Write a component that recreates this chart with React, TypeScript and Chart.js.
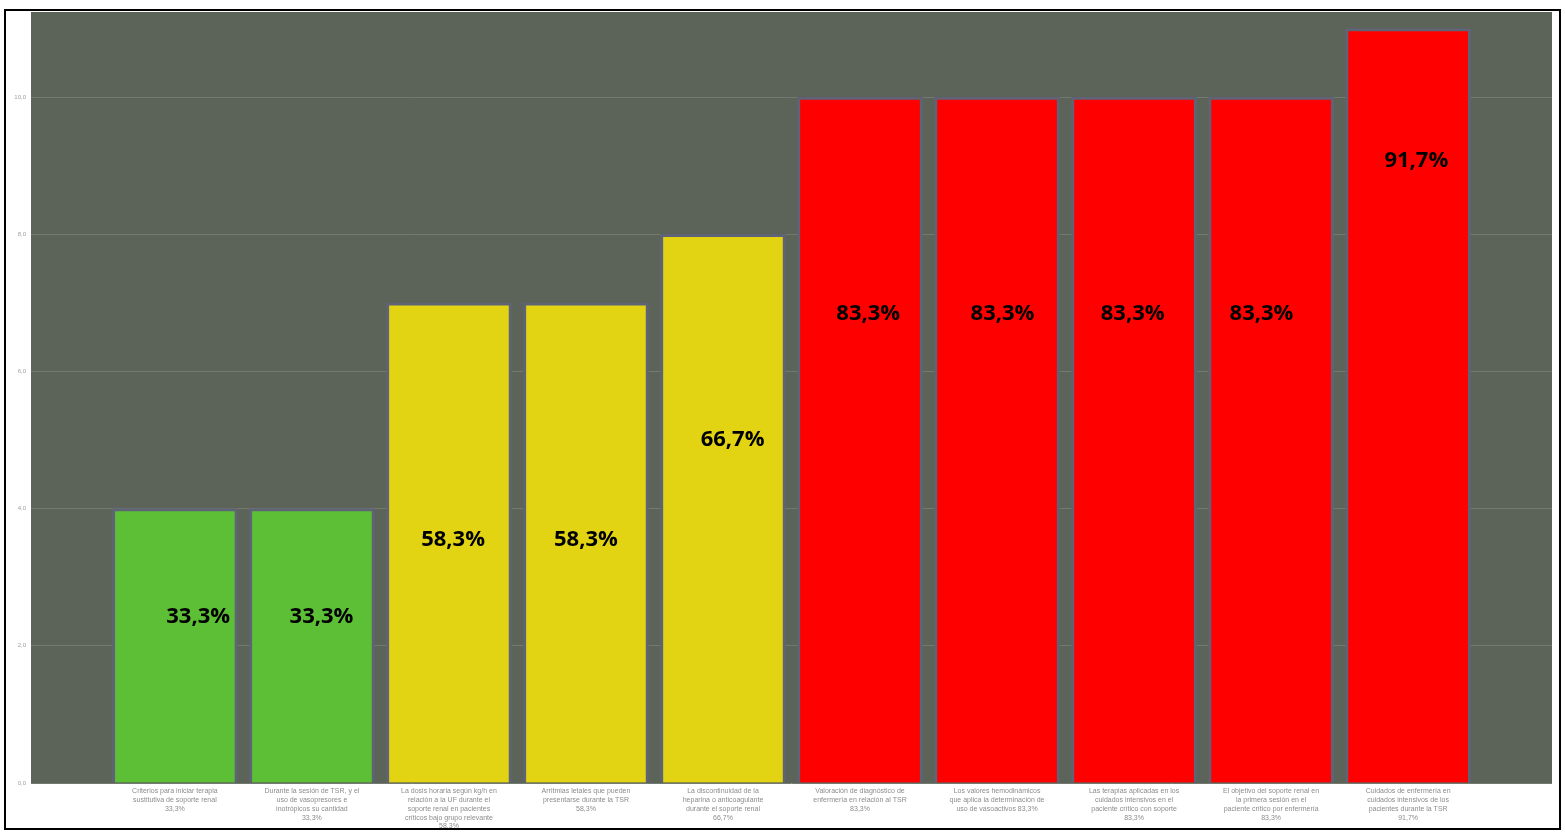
import React, { useEffect, useRef } from "react";
import { Chart, registerables } from "chart.js";

Chart.register(...registerables);

// ---- data ----
const categories: string[][] = [
  ["Criterios para iniciar terapia", "sustitutiva de soporte renal", "33,3%"],
  ["Durante la sesión de TSR, y el", "uso de vasopresores e", "inotrópicos su cantidad", "33,3%"],
  ["La dosis horaria según kg/h en", "relación a la UF durante el", "soporte renal en pacientes", "críticos bajo grupo relevante", "58,3%"],
  ["Arritmias letales que pueden", "presentarse durante la TSR", "58,3%"],
  ["La discontinuidad de la", "heparina o anticoagulante", "durante el soporte renal", "66,7%"],
  ["Valoración de diagnóstico de", "enfermería en relación al TSR", "83,3%"],
  ["Los valores hemodinámicos", "que aplica la determinación de", "uso de vasoactivos 83,3%"],
  ["Las terapias aplicadas en los", "cuidados intensivos en el", "paciente crítico con soporte", "83,3%"],
  ["El objetivo del soporte renal en", "la primera sesión en el", "paciente crítico por enfermería", "83,3%"],
  ["Cuidados de enfermería en", "cuidados intensivos de los", "pacientes durante la TSR", "91,7%"],
];
const counts = [4, 4, 7, 7, 8, 10, 10, 10, 10, 11];
const percentLabels = ["33,3%", "33,3%", "58,3%", "58,3%", "66,7%", "83,3%", "83,3%", "83,3%", "83,3%", "91,7%"];
const yTickValues = [0, 2, 4, 6, 8, 10];
const yTickLabels = ["0,0", "2,0", "4,0", "6,0", "8,0", "10,0"];

const GREEN = "#5cbf36";
const YELLOW = "#e2d412";
const RED = "#ff0000";
const barColors = [GREEN, GREEN, YELLOW, YELLOW, YELLOW, RED, RED, RED, RED, RED];

// placement of the in-bar percentage annotations (x offset in category units, y in value units)
const annotationDx = [0.17, 0.07, 0.03, 0, 0.07, 0.06, 0.04, -0.01, -0.07, 0.06];
const annotationY = [2.42, 2.42, 3.54, 3.54, 5.0, 6.84, 6.84, 6.84, 6.84, 9.07];

const PLOT_BG = "#5c6359";

const backgroundPlugin = {
  id: "bgPlugin",
  beforeDraw(chart: any) {
    const { ctx, chartArea } = chart;
    ctx.save();
    ctx.fillStyle = "#ffffff";
    ctx.fillRect(0, 0, chart.width, chart.height);
    ctx.fillStyle = PLOT_BG;
    ctx.fillRect(chartArea.left, chartArea.top, chartArea.right - chartArea.left, chartArea.bottom - chartArea.top);
    ctx.restore();
  },
};

const framePlugin = {
  id: "framePlugin",
  afterDraw(chart: any) {
    const { ctx } = chart;
    ctx.save();
    ctx.fillStyle = "#ffffff";
    ctx.fillRect(0, 0, chart.width, 10);
    ctx.fillRect(0, 829, chart.width, chart.height - 829);
    ctx.strokeStyle = "#000000";
    ctx.lineWidth = 2;
    ctx.strokeRect(5, 10, 1555, 819);
    ctx.restore();
  },
};

const valueLabelPlugin = {
  id: "valueLabels",
  afterDatasetsDraw(chart: any) {
    const { ctx } = chart;
    const xs = chart.scales.x;
    const ys = chart.scales.y;
    ctx.save();
    ctx.font = "bold 22px 'Open Sans'";
    ctx.fillStyle = "#000000";
    ctx.textAlign = "center";
    ctx.textBaseline = "middle";
    percentLabels.forEach((t, i) => {
      const x = xs.getPixelForValue(i + annotationDx[i]);
      const y = ys.getPixelForValue(annotationY[i]);
      ctx.fillText(t, x, y);
    });
    ctx.restore();
  },
};

export default function App() {
  const ref = useRef<HTMLCanvasElement>(null);
  useEffect(() => {
    if (!ref.current) return;
    const chart = new Chart(ref.current, {
      type: "bar",
      data: {
        datasets: [
          {
            data: counts.map((v, i) => ({ x: i, y: v })),
            backgroundColor: barColors,
            borderColor: "#5e6476",
            borderWidth: 3,
            barThickness: 125,
          },
        ],
      },
      options: {
        responsive: false,
        animation: false,
        devicePixelRatio: 1,
        layout: { padding: { left: 0, top: 12, right: 13, bottom: 0 } },
        plugins: { legend: { display: false }, tooltip: { enabled: false } },
        scales: {
          x: {
            type: "linear",
            offset: false,
            min: -1.05,
            max: 10.05,
            grid: { display: false, drawTicks: false, offset: false },
            border: { display: false },
            afterBuildTicks: (axis: any) => {
              axis.ticks = categories.map((_, i) => ({ value: i }));
            },
            afterFit: (scale: any) => {
              scale.height = 50;
            },
            ticks: {
              autoSkip: false,
              maxRotation: 0,
              minRotation: 0,
              padding: 4,
              color: "#8c8c8c",
              font: { family: "'Liberation Sans'", size: 7, lineHeight: 1.25 },
              callback: (v: any) => categories[Math.round(Number(v))] ?? "",
            },
          },
          y: {
            min: 0,
            max: 11.24,
            grid: { color: "#737a70", lineWidth: 1, drawTicks: false },
            border: { display: false },
            afterBuildTicks: (axis: any) => {
              axis.ticks = yTickValues.map((v) => ({ value: v }));
            },
            afterFit: (scale: any) => {
              scale.width = 31;
            },
            ticks: {
              padding: 5,
              color: "#a0a0a0",
              font: { family: "'Liberation Sans'", size: 6 },
              callback: (v: any) => yTickLabels[yTickValues.indexOf(Number(v))] ?? "",
            },
          },
        },
      },
      plugins: [backgroundPlugin, valueLabelPlugin, framePlugin],
    });
    return () => chart.destroy();
  }, []);
  return (
    <div style={{ position: "absolute", left: 0, top: 0, width: 1565, height: 833 }}>
      <canvas ref={ref} width={1565} height={833} style={{ display: "block" }} />
    </div>
  );
}
